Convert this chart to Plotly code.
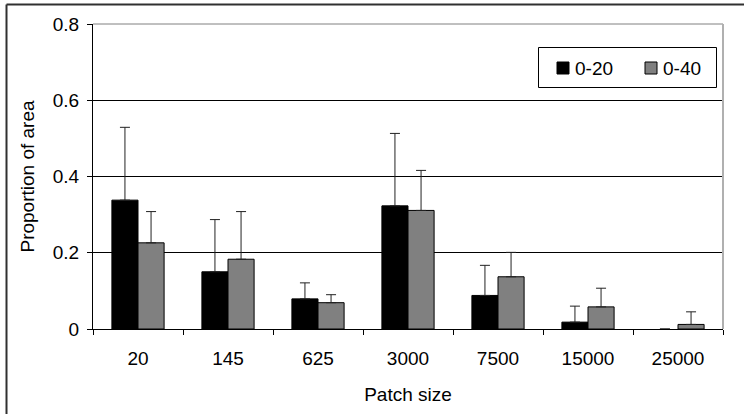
import plotly.graph_objects as go

categories = ["20", "145", "625", "3000", "7500", "15000", "25000"]
series_names = ["0-20", "0-40"]
series_colors = ["#000000", "#808080"]
vals_0_20 = [0.338, 0.150, 0.079, 0.323, 0.088, 0.018, 0.0]
err_0_20 = [0.191, 0.137, 0.042, 0.190, 0.079, 0.042, 0.0]
vals_0_40 = [0.226, 0.183, 0.069, 0.311, 0.137, 0.058, 0.012]
err_0_40 = [0.082, 0.125, 0.021, 0.105, 0.064, 0.049, 0.033]
y_ticks = [0, 0.2, 0.4, 0.6, 0.8]
y_ticklabels = ["0", "0.2", "0.4", "0.6", "0.8"]

FONT = "Liberation Sans, Arial, sans-serif"
FS = 19
W, H = 744, 414
L, R, T, B = 93, 21, 24, 85
pw, ph = W - L - R, H - T - B

def px(x):
    return (x - L) / pw

def py(y):
    return (H - B - y) / ph

fig = go.Figure()
for name, vals, errs, color in [
    (series_names[0], vals_0_20, err_0_20, series_colors[0]),
    (series_names[1], vals_0_40, err_0_40, series_colors[1]),
]:
    fig.add_trace(go.Bar(
        x=categories, y=vals, name=name,
        marker=dict(color=color,
                    line=dict(color="#000000",
                              width=[1 if v > 0 else 0 for v in vals])),
        error_y=dict(type="data", symmetric=False, array=errs,
                     arrayminus=[0] * len(errs), color="#222222",
                     thickness=1, width=5),
    ))

fig.update_layout(
    width=W, height=H,
    margin=dict(l=L, r=R, t=T, b=B, pad=0, autoexpand=False),
    paper_bgcolor="white", plot_bgcolor="white",
    font=dict(family=FONT, size=FS, color="#000000"),
    barmode="group", bargap=0.42, bargroupgap=0,
    showlegend=False,
    xaxis=dict(
        type="category", showgrid=False, showline=True, linecolor="#000000",
        linewidth=1, ticks="outside", ticklen=5, tickcolor="#000000",
        tickson="boundaries", tickfont=dict(size=FS), ticklabelstandoff=12,
        title=dict(text="Patch size", font=dict(size=FS), standoff=19),
    ),
    yaxis=dict(
        range=[0, 0.8], tickvals=y_ticks, ticktext=y_ticklabels,
        showgrid=True, gridcolor="#000000", gridwidth=1,
        showline=True, linecolor="#000000", linewidth=1,
        ticks="outside", ticklen=5, tickcolor="#000000",
        tickfont=dict(size=FS), zeroline=False, ticklabelstandoff=4,
        title=dict(text="Proportion of area", font=dict(size=FS), standoff=13),
    ),
)

# legend (drawn by hand to match the original box layout)
fig.add_shape(type="rect", xref="paper", yref="paper",
              x0=px(538.5), x1=px(716.5), y0=py(87.5), y1=py(47.5),
              line=dict(color="#000000", width=1), fillcolor="white")
leg_sq_x = [557, 645]
leg_txt_x = [573, 661]
for i in range(2):
    fig.add_shape(type="rect", xref="paper", yref="paper",
                  x0=px(leg_sq_x[i]), x1=px(leg_sq_x[i] + 12),
                  y0=py(74), y1=py(62),
                  line=dict(color="#000000", width=1),
                  fillcolor=series_colors[i])
    fig.add_annotation(xref="paper", yref="paper", x=px(leg_txt_x[i]), y=py(68),
                       xanchor="left", yanchor="middle", showarrow=False,
                       text=series_names[i], font=dict(size=FS))

# plot-area frame (top and right, grey) and outer chart frame
fig.add_shape(type="line", xref="paper", yref="paper", x0=0, x1=1, y0=1, y1=1,
              line=dict(color="#808080", width=1))
fig.add_shape(type="line", xref="paper", yref="paper", x0=1, x1=1, y0=0, y1=1,
              line=dict(color="#b0b0b0", width=2))
fx0 = px(6.5)
fy1 = py(4.5)
fig.add_shape(type="line", xref="paper", yref="paper", x0=fx0, x1=fx0, y0=fy1, y1=-0.5,
              line=dict(color="#303030", width=2))
fig.add_shape(type="line", xref="paper", yref="paper", x0=fx0, x1=1.2, y0=fy1, y1=fy1,
              line=dict(color="#303030", width=2))

fig.write_html("out.html")
